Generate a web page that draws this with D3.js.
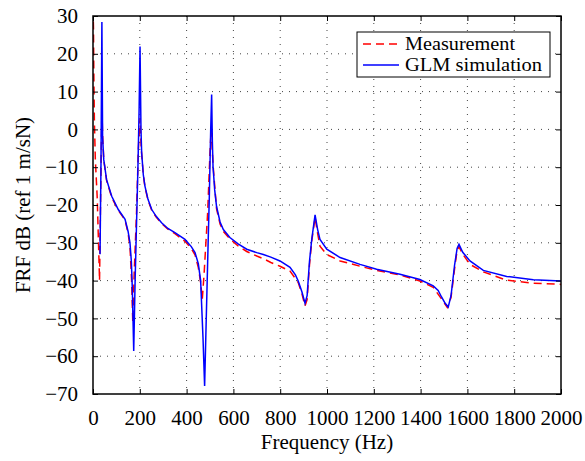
<!DOCTYPE html>
<html>
<head>
<meta charset="utf-8">
<script src="https://cdn.jsdelivr.net/npm/d3@7"></script>
<style>
  body { margin: 0; background: #fff; }
  svg text { font-family: "Liberation Serif", "Times New Roman", serif; }
</style>
</head>
<body>
<div id="chart"></div>
<script>
// Measured FRF (red dashed)
var measFreq = [0, 2, 4, 6, 10, 18, 28, 32, 38, 42, 46, 58, 80, 108, 137, 150, 158, 165, 170, 176,
  186, 194, 201, 206, 215, 222, 235, 251, 270, 293, 320, 350, 393, 420, 436, 450, 460, 467, 475, 490,
  500, 505, 510, 515, 528, 543, 557, 585, 620, 657, 700, 728, 760, 799, 842, 877, 893, 906, 915, 925,
  935, 949, 960, 970, 999, 1056, 1141, 1212, 1312, 1397, 1454, 1490, 1514, 1530, 1545, 1556, 1564, 1580,
  1611, 1668, 1768, 1882, 2000];
var measDb = [32, 27, 12, 2, -8, -18, -40, -20, 5, -3, -8, -13.5, -18, -21.4, -24, -27.5, -31, -40, -51, -38,
  -22, -5, 3, -5, -12, -15.2, -18.7, -21.4, -23.2, -24.9, -26.4, -27.6, -29.6, -31.5, -33.2, -36.5, -40.5, -45, -38, -22,
  -6, 0, -6, -11, -21, -25, -27, -29, -30.8, -32.3, -33.5, -34.2, -35.2, -36.2, -37.5, -40.5, -43.5, -46.7, -45, -36,
  -29.5, -23.3, -27.5, -30.9, -33.1, -34.8, -36.2, -37.3, -38.5, -40.1, -41.8, -44.9, -47.1, -44.5, -37, -32, -31, -33,
  -35.7, -37.7, -39.9, -40.7, -41];

// GLM simulation (blue solid)
var simFreq = [30, 34, 38, 41, 46, 58, 80, 108, 137, 150, 158, 164, 168, 174, 180, 186, 192, 197, 201, 205,
  208, 215, 222, 235, 251, 270, 293, 320, 350, 393, 420, 436, 450, 460, 470, 477, 484, 490, 497, 503,
  507, 510, 513, 520, 528, 543, 557, 585, 620, 657, 700, 728, 760, 799, 842, 865, 877, 893, 906, 915,
  925, 935, 949, 960, 970, 999, 1056, 1141, 1212, 1312, 1397, 1454, 1475, 1490, 1505, 1518, 1530, 1545, 1556,
  1564, 1580, 1611, 1668, 1768, 1882, 2000];
var simDb = [-33, -10, 28.4, -2, -8, -13.3, -17.7, -21.2, -23.8, -27, -30, -35, -42, -58.6, -40, -25, -10, 5, 21.9, 0,
  -6.2, -12, -15, -18.5, -21.2, -23, -24.7, -26.2, -27.3, -29.1, -31, -32.6, -35.5, -40, -55, -67.9, -50, -35, -18, 0,
  9.2, -3, -9.8, -16, -20.4, -24.5, -26.5, -28.6, -30.3, -31.7, -32.6, -33.1, -33.8, -34.8, -36.5, -38.5, -40.1, -43, -46, -44,
  -35, -29, -22.6, -26.5, -29.1, -31.7, -33.9, -35.7, -37, -38.3, -39.7, -41.4, -42.6, -44.4, -46, -47, -44, -36, -31.5,
  -30.4, -32.5, -34.8, -37.3, -38.9, -39.8, -40.1];

var xTicks = [0, 200, 400, 600, 800, 1000, 1200, 1400, 1600, 1800, 2000];
var yTicks = [-70, -60, -50, -40, -30, -20, -10, 0, 10, 20, 30];

var legendLabels = ["Measurement", "GLM simulation"];

// Layout
var width = 585, height = 461;
var margin = { top: 16, right: 24, bottom: 67, left: 93 };
var plotW = width - margin.left - margin.right;
var plotH = height - margin.top - margin.bottom;

var svg = d3.select("#chart").append("svg")
  .attr("width", width)
  .attr("height", height);

var g = svg.append("g")
  .attr("transform", "translate(" + margin.left + "," + margin.top + ")");

var x = d3.scaleLinear().domain([0, 2000]).range([0, plotW]);
var y = d3.scaleLinear().domain([-70, 30]).range([plotH, 0]);

// Dotted grid
g.append("g").selectAll("line")
  .data(xTicks.slice(1, -1))
  .join("line")
  .attr("x1", d => x(d)).attr("x2", d => x(d))
  .attr("y1", 0).attr("y2", plotH)
  .attr("stroke", "#444").attr("stroke-width", 1)
  .attr("stroke-dasharray", "1,6");

g.append("g").selectAll("line")
  .data(yTicks.slice(1, -1))
  .join("line")
  .attr("x1", 0).attr("x2", plotW)
  .attr("y1", d => y(d)).attr("y2", d => y(d))
  .attr("stroke", "#444").attr("stroke-width", 1)
  .attr("stroke-dasharray", "1,6");

// Clip the curves to the plot box
svg.append("defs").append("clipPath").attr("id", "clip")
  .append("rect").attr("width", plotW).attr("height", plotH);

var line = d3.line()
  .x(d => x(d[0]))
  .y(d => y(d[1]));

var measData = d3.zip(measFreq, measDb);
var simData = d3.zip(simFreq, simDb);

var curves = g.append("g").attr("clip-path", "url(#clip)");

curves.append("path")
  .datum(measData)
  .attr("d", line)
  .attr("fill", "none")
  .attr("stroke", "#ff0000")
  .attr("stroke-width", 1.5)
  .attr("stroke-dasharray", "8,5");

curves.append("path")
  .datum(simData)
  .attr("d", line)
  .attr("fill", "none")
  .attr("stroke", "#0000ff")
  .attr("stroke-width", 1.5);

// Axes with inward ticks on all four sides
function styleAxis(sel) {
  sel.select(".domain").remove();
  sel.selectAll("line").attr("stroke", "#000").attr("stroke-width", 1);
  sel.selectAll("text").attr("fill", "#000").style("font-size", "21px");
}

g.append("g")
  .attr("transform", "translate(0," + plotH + ")")
  .call(d3.axisBottom(x).tickValues(xTicks).tickFormat(d3.format("d")).tickSize(-5).tickPadding(16))
  .call(styleAxis);

g.append("g")
  .call(d3.axisLeft(y).tickValues(yTicks).tickSize(-5).tickPadding(15))
  .call(styleAxis);

g.append("g")
  .call(d3.axisTop(x).tickValues(xTicks).tickSize(-5).tickFormat(""))
  .call(styleAxis);

g.append("g")
  .attr("transform", "translate(" + plotW + ",0)")
  .call(d3.axisRight(y).tickValues(yTicks).tickSize(-5).tickFormat(""))
  .call(styleAxis);

// Plot frame
g.append("rect")
  .attr("width", plotW).attr("height", plotH)
  .attr("fill", "none")
  .attr("stroke", "#000")
  .attr("stroke-width", 1.5);

// Axis labels
svg.append("text")
  .attr("x", margin.left + plotW / 2)
  .attr("y", 449)
  .attr("text-anchor", "middle")
  .style("font-size", "21px")
  .text("Frequency (Hz)");

svg.append("text")
  .attr("transform", "translate(30," + (margin.top + plotH / 2) + ") rotate(-90)")
  .attr("text-anchor", "middle")
  .style("font-size", "21px")
  .text("FRF dB (ref 1 m/sN)");

// Legend
var legend = svg.append("g").attr("transform", "translate(357,32)");

legend.append("rect")
  .attr("width", 193).attr("height", 45)
  .attr("fill", "#fff")
  .attr("stroke", "#000")
  .attr("stroke-width", 1);

var legendStyles = [
  { color: "#ff0000", dash: "8,5" },
  { color: "#0000ff", dash: null }
];

legendLabels.forEach(function (label, i) {
  var ly = 12 + i * 21;
  legend.append("line")
    .attr("x1", 6).attr("x2", 42)
    .attr("y1", ly).attr("y2", ly)
    .attr("stroke", legendStyles[i].color)
    .attr("stroke-width", 1.5)
    .attr("stroke-dasharray", legendStyles[i].dash);
  legend.append("text")
    .attr("x", 48)
    .attr("y", ly + 6)
    .style("font-size", "18px")
    .attr("textLength", i === 0 ? 110 : 137)
    .attr("lengthAdjust", "spacingAndGlyphs")
    .text(label);
});
</script>
</body>
</html>
